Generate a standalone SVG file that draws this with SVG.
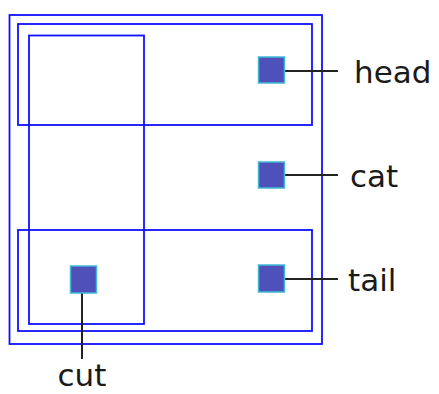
<svg xmlns="http://www.w3.org/2000/svg" width="439" height="394" viewBox="0 0 439 394">
<style>
.box{fill:none;stroke:#1010ff;stroke-width:1.8}
.sq{fill:#5050bb;stroke:#40b8d8;stroke-width:1.5}
.ln{stroke:#222;stroke-width:2;fill:none}
.lbl{font-family:"DejaVu Sans",sans-serif;font-size:31px;fill:#1a1a1a}
</style>
<rect width="439" height="394" fill="#fff"/>
<g id="outer"><rect class="box" x="9.5" y="15" width="312.5" height="329"/></g>
<g id="head-box"><rect class="box" x="18" y="24" width="294" height="101"/></g>
<g id="tail-box"><rect class="box" x="18" y="230" width="294" height="101"/></g>
<g id="cut-box"><rect class="box" x="29" y="35.5" width="115" height="288.5"/></g>
<g id="connectors">
<line class="ln" x1="284" y1="71" x2="338" y2="71"/>
<line class="ln" x1="284" y1="175" x2="338" y2="175"/>
<line class="ln" x1="284" y1="279" x2="338" y2="279"/>
<line class="ln" x1="82" y1="293" x2="82" y2="359"/>
</g>
<g id="head"><rect class="sq" x="258.5" y="57" width="26" height="26"/><text class="lbl" x="354" y="83">head</text></g>
<g id="cat"><rect class="sq" x="258.5" y="162" width="26" height="26"/><text class="lbl" x="350" y="187">cat</text></g>
<g id="tail"><rect class="sq" x="258.5" y="265" width="26" height="27"/><text class="lbl" x="348" y="291">tail</text></g>
<g id="cut"><rect class="sq" x="70.5" y="266" width="26" height="27"/><text class="lbl" x="82" y="386" text-anchor="middle">cut</text></g>
</svg>
